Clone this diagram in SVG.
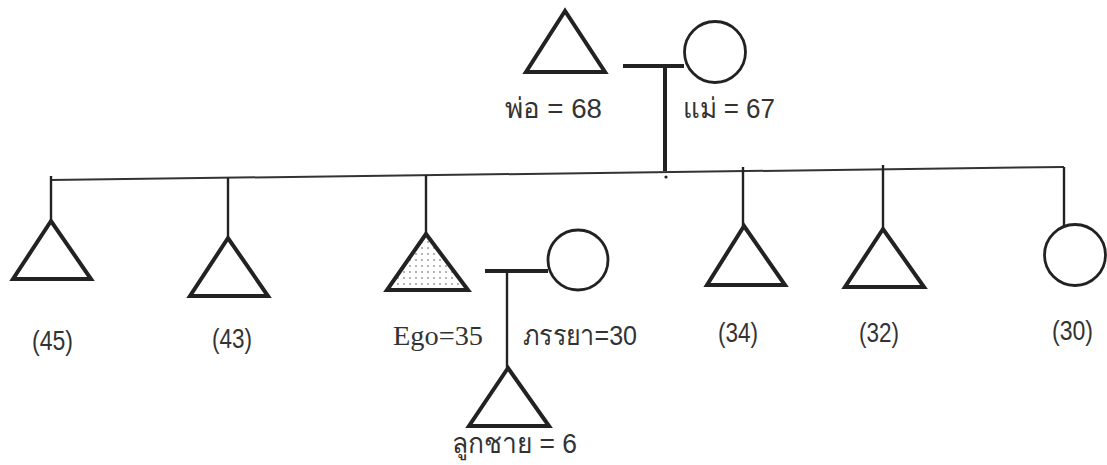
<svg xmlns="http://www.w3.org/2000/svg" width="1107" height="465" viewBox="0 0 1107 465">
<style>
.tri{fill:#fff;stroke:#222;stroke-width:4;stroke-linejoin:miter}
.cir{fill:#fff;stroke:#222;stroke-width:2.8}
.bar{stroke:#222;stroke-width:4;fill:none}
.ln{stroke:#222;stroke-width:2.4;fill:none}
.sib{stroke:#333;stroke-width:2;fill:none}
.lbl{font-family:"Liberation Sans","Noto Sans",sans-serif;font-size:28px;fill:#333}
.ser{font-family:"Liberation Serif",serif;font-size:27px;fill:#333}
</style>
<defs>
<pattern id="dots" width="6" height="6" patternUnits="userSpaceOnUse">
<circle cx="2" cy="2" r="0.8" fill="#555"/>
</pattern>
</defs>
<rect width="1107" height="465" fill="#fff"/>
<g id="connectors">
<line class="sib" x1="51" y1="180" x2="1064" y2="167"/>
<line class="bar" x1="623" y1="66" x2="684" y2="66"/>
<line class="bar" x1="665" y1="66" x2="665" y2="171"/>
<circle cx="666" cy="177" r="1.6" fill="#222"/>
<line class="ln" x1="51" y1="176" x2="51" y2="222"/>
<line class="ln" x1="228" y1="178" x2="228" y2="239"/>
<line class="ln" x1="426" y1="175" x2="426" y2="235"/>
<line class="ln" x1="743" y1="167" x2="743" y2="227"/>
<line class="ln" x1="883" y1="165" x2="883" y2="230"/>
<line class="ln" x1="1064" y1="167" x2="1064" y2="226"/>
<line class="bar" x1="485" y1="271" x2="548" y2="271"/>
<line class="ln" x1="507" y1="271" x2="507" y2="368"/>
</g>
<g id="father">
<polygon class="tri" points="565,11 526,72 605,72"/>
<text class="lbl" x="505" y="118" textLength="97" lengthAdjust="spacingAndGlyphs">พ่อ = 68</text>
</g>
<g id="mother">
<circle class="cir" cx="715" cy="52" r="30.5"/>
<text class="lbl" x="683" y="118" textLength="92" lengthAdjust="spacingAndGlyphs">แม่ = 67</text>
</g>
<g id="sib45">
<polygon class="tri" points="51,221 13,279 91,279"/>
<text class="lbl" x="32" y="350" textLength="41" lengthAdjust="spacingAndGlyphs">(45)</text>
</g>
<g id="sib43">
<polygon class="tri" points="228,238 190,296 268,296"/>
<text class="lbl" x="212" y="348" textLength="40" lengthAdjust="spacingAndGlyphs">(43)</text>
</g>
<g id="ego">
<polygon class="tri" points="426,234 387,290 468,290" style="fill:url(#dots)"/>
<text class="ser" x="393" y="345" textLength="90" lengthAdjust="spacingAndGlyphs">Ego=35</text>
</g>
<g id="wife">
<circle class="cir" cx="578" cy="260" r="30"/>
<text class="lbl" x="523" y="345" textLength="114" lengthAdjust="spacingAndGlyphs">ภรรยา=30</text>
</g>
<g id="son">
<polygon class="tri" points="508,368 469,426 549,426"/>
<text class="lbl" x="452" y="453" textLength="125" lengthAdjust="spacingAndGlyphs">ลูกชาย = 6</text>
</g>
<g id="sib34">
<polygon class="tri" points="744,226 707,285 785,285"/>
<text class="lbl" x="718" y="342" textLength="40" lengthAdjust="spacingAndGlyphs">(34)</text>
</g>
<g id="sib32">
<polygon class="tri" points="883,229 845,287 924,287"/>
<text class="lbl" x="859" y="342" textLength="40" lengthAdjust="spacingAndGlyphs">(32)</text>
</g>
<g id="sib30">
<circle class="cir" cx="1075" cy="255" r="30.5"/>
<text class="lbl" x="1052" y="340" textLength="41" lengthAdjust="spacingAndGlyphs">(30)</text>
</g>
</svg>
